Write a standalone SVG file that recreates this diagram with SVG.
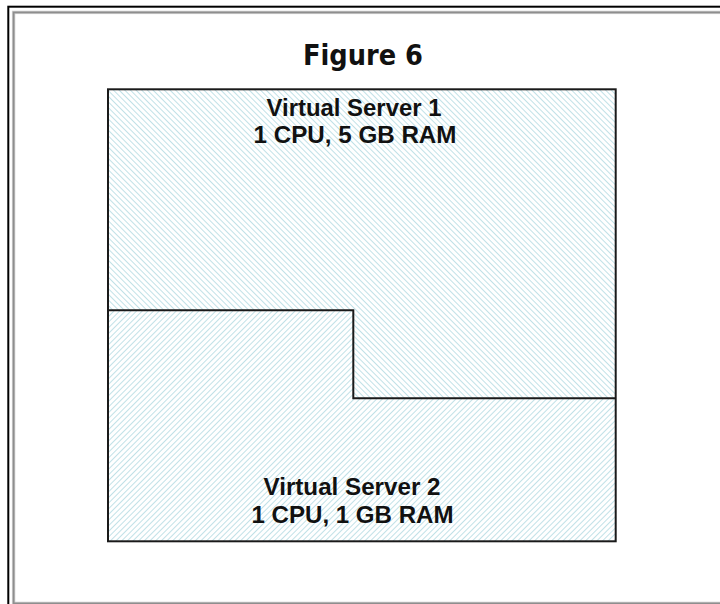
<svg xmlns="http://www.w3.org/2000/svg" width="720" height="604" viewBox="0 0 720 604">
  <defs>
    <!-- fine diagonal hatching for the server allocations -->
    <pattern id="hatch-down" width="4" height="4" patternUnits="userSpaceOnUse" patternTransform="rotate(-45)">
      <rect width="4" height="4" fill="#ffffff"/>
      <line x1="0" y1="0" x2="0" y2="4" stroke="#acd7df" stroke-width="1.5"/>
    </pattern>
    <pattern id="hatch-up" width="4" height="4" patternUnits="userSpaceOnUse" patternTransform="rotate(45)">
      <rect width="4" height="4" fill="#ffffff"/>
      <line x1="0" y1="0" x2="0" y2="4" stroke="#acd7df" stroke-width="1.5"/>
    </pattern>
    <style>
      .label { font-family: "Liberation Sans", Arial, sans-serif; font-weight: bold; font-size: 23px; fill: #111; text-anchor: middle; }
      .title { font-family: "DejaVu Sans", Verdana, sans-serif; font-weight: bold; font-size: 28px; fill: #111; text-anchor: middle; }
      .edge { fill: none; stroke: #1a1a1a; stroke-width: 2; }
    </style>
  </defs>

  <rect width="720" height="604" fill="#ffffff"/>

  <!-- page frame -->
  <g id="frame">
    <rect x="8.3" y="6.7" width="760" height="640" fill="none" stroke="#000000" stroke-width="2"/>
    <rect x="13.6" y="12.4" width="760" height="591" fill="none" stroke="#d0d0d0" stroke-width="3.4"/>
    <rect x="13.6" y="12.4" width="760" height="591" fill="none" stroke="#8e8e8e" stroke-width="1.8"/>
  </g>

  <g id="title">
    <text class="title" x="363" y="64.5" textLength="120" lengthAdjust="spacingAndGlyphs">Figure 6</text>
  </g>

  <!-- upper allocation -->
  <g id="server1">
    <polygon points="108,89.3 615.7,89.3 615.7,398.3 353.3,398.3 353.3,310.3 108,310.3" fill="url(#hatch-down)"/>
    <text class="label" x="354" y="115.5" textLength="175" lengthAdjust="spacingAndGlyphs">Virtual Server 1</text>
    <text class="label" x="355" y="143.3" textLength="203" lengthAdjust="spacingAndGlyphs">1 CPU, 5 GB RAM</text>
  </g>

  <!-- lower allocation -->
  <g id="server2">
    <polygon points="108,310.3 353.3,310.3 353.3,398.3 615.7,398.3 615.7,541.3 108,541.3" fill="url(#hatch-up)"/>
    <text class="label" x="352" y="495" textLength="177" lengthAdjust="spacingAndGlyphs">Virtual Server 2</text>
    <text class="label" x="352.5" y="523.3" textLength="202" lengthAdjust="spacingAndGlyphs">1 CPU, 1 GB RAM</text>
  </g>

  <!-- outlines -->
  <g id="connectors">
    <rect class="edge" x="108" y="89.3" width="507.7" height="452"/>
    <polyline class="edge" points="108,310.3 353.3,310.3 353.3,398.3 615.7,398.3"/>
  </g>
</svg>
